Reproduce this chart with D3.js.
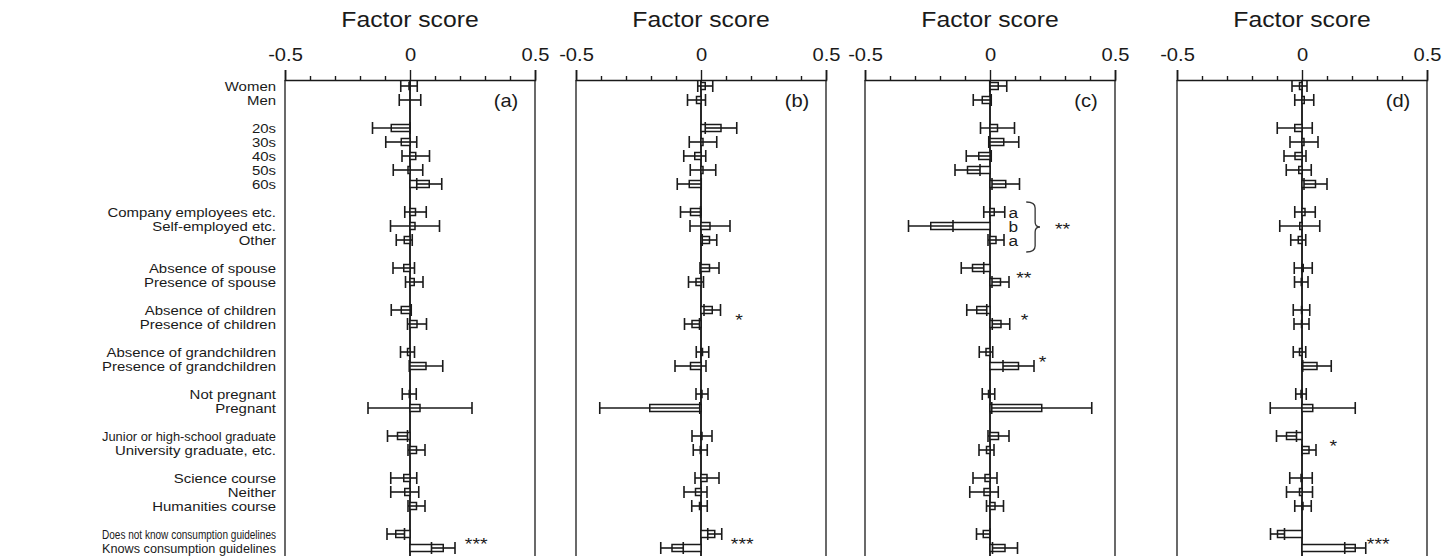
<!DOCTYPE html>
<html><head><meta charset="utf-8">
<script src="https://cdn.jsdelivr.net/npm/d3@7"></script>
<style>
body{margin:0;background:#fff}
text{font-family:"Liberation Sans",Arial,sans-serif;fill:#1a1a1a}
</style>
</head><body>
<svg id="c" width="1456" height="556"></svg>
<script>
// ---------- data ----------
const categories = [
  "Women","Men",
  "20s","30s","40s","50s","60s",
  "Company employees etc.","Self-employed etc.","Other",
  "Absence of spouse","Presence of spouse",
  "Absence of children","Presence of children",
  "Absence of grandchildren","Presence of grandchildren",
  "Not pregnant","Pregnant",
  "Junior or high-school graduate","University graduate, etc.",
  "Science course","Neither","Humanities course",
  "Does not know consumption guidelines","Knows consumption guidelines"
];
const groupSizes = [2,5,3,2,2,2,2,2,3,2];
const panelNames = ["(a)","(b)","(c)","(d)"];
const axisTitle = "Factor score";
const tickMajor = [-0.5, 0, 0.5];
const tickLabels = ["-0.5","0","0.5"];
const tickMinor = [-0.4,-0.3,-0.2,-0.1,0.1,0.2,0.3,0.4];

const meanA = [-0.004,0.000,-0.075,-0.035,0.023,-0.008,0.077,0.022,0.020,-0.023,-0.025,0.017,-0.035,0.028,-0.010,0.064,-0.003,0.040,-0.050,0.026,-0.025,-0.021,0.026,-0.057,0.133];
const errA  = [0.033,0.043,0.075,0.062,0.055,0.059,0.050,0.043,0.098,0.032,0.043,0.035,0.040,0.038,0.028,0.067,0.028,0.208,0.040,0.034,0.052,0.056,0.034,0.035,0.047];

const meanB = [0.017,-0.018,0.080,0.008,-0.025,0.008,-0.047,-0.042,0.036,0.034,0.034,-0.020,0.045,-0.036,0.006,-0.042,0.004,-0.205,0.004,-0.003,0.024,-0.022,-0.006,0.055,-0.116];
const errB  = [0.030,0.036,0.063,0.055,0.044,0.051,0.048,0.040,0.080,0.029,0.038,0.030,0.033,0.030,0.025,0.062,0.024,0.200,0.040,0.028,0.048,0.046,0.031,0.028,0.045];

const meanC = [0.033,-0.031,0.030,0.055,-0.045,-0.090,0.063,0.017,-0.237,0.024,-0.070,0.042,-0.053,0.044,-0.016,0.114,-0.006,0.207,0.034,-0.014,-0.020,-0.024,0.020,-0.027,0.060];
const errC  = [0.034,0.036,0.068,0.060,0.050,0.050,0.055,0.042,0.089,0.032,0.045,0.034,0.040,0.035,0.027,0.062,0.025,0.200,0.042,0.030,0.048,0.057,0.034,0.027,0.050];

const meanD = [-0.010,0.009,-0.029,0.008,-0.028,-0.013,0.054,0.012,-0.009,-0.015,0.005,-0.003,-0.002,-0.002,-0.010,0.060,-0.004,0.043,-0.062,0.028,-0.004,-0.010,0.004,-0.098,0.213];
const errD  = [0.030,0.038,0.070,0.056,0.044,0.050,0.046,0.041,0.080,0.030,0.036,0.027,0.033,0.030,0.025,0.057,0.021,0.170,0.040,0.028,0.045,0.052,0.033,0.028,0.042];

// significance marks: between rows `from` and `to`, at factor-score x
const sigA = [{from:"Does not know consumption guidelines", to:"Knows consumption guidelines", x:0.265, text:"***"}];
const sigB = [{from:"Absence of children", to:"Presence of children", x:0.152, text:"*"},
              {from:"Does not know consumption guidelines", to:"Knows consumption guidelines", x:0.165, text:"***"}];
const sigC = [{from:"Self-employed etc.", to:"Self-employed etc.", x:0.29, text:"**"},
              {from:"Absence of spouse", to:"Presence of spouse", x:0.135, text:"**"},
              {from:"Absence of children", to:"Presence of children", x:0.138, text:"*"},
              {from:"Absence of grandchildren", to:"Presence of grandchildren", x:0.21, text:"*"}];
const sigD = [{from:"Junior or high-school graduate", to:"University graduate, etc.", x:0.125, text:"*"},
              {from:"Does not know consumption guidelines", to:"Knows consumption guidelines", x:0.305, text:"***"}];
const lettersC = [{row:"Company employees etc.", text:"a"},{row:"Self-employed etc.", text:"b"},{row:"Other", text:"a"}];
const letterX = 0.093;
const braceC = {from:"Company employees etc.", to:"Other", x0:0.145, x1:0.2};

// ---------- layout ----------
const svg = d3.select("#c");
const SX = 1.15; // horizontal stretch of the original typography
const panelLeft = [285, 576, 865, 1177];
const panelW = 250;
const topY = 80;
const INK = "#1a1a1a";

// slot positions (groups separated by a blank slot)
const slotOf = {};
let s = 0, k = 0;
groupSizes.forEach(g => { for (let i = 0; i < g; i++) slotOf[categories[k++]] = s++; s++; });
const nSlots = s - 1;
const y = d3.scaleLinear().domain([0, nSlots - 1]).range([86, 548]);

function sText(g, x, yy, str, size, anchor) {
  return g.append("text")
    .attr("transform", `translate(${x},${yy}) scale(${SX},1)`)
    .attr("text-anchor", anchor || "middle")
    .style("font-size", size + "px")
    .text(str);
}

// row labels (long ones are squeezed to the label column width, as in the original)
const lab = svg.append("g");
const maxLabelW = 174;
categories.forEach(c => {
  const t = sText(lab, 276, y(slotOf[c]) + 4.5, c, 13, "end");
  const w = t.node().getComputedTextLength();
  if (w * SX > maxLabelW) t.attr("textLength", maxLabelW / SX).attr("lengthAdjust", "spacingAndGlyphs");
});

const panels = [
  {mean: meanA, err: errA, sig: sigA},
  {mean: meanB, err: errB, sig: sigB},
  {mean: meanC, err: errC, sig: sigC, letters: lettersC, brace: braceC},
  {mean: meanD, err: errD, sig: sigD}
];

panels.forEach((p, pi) => {
  const L = panelLeft[pi];
  const x = d3.scaleLinear().domain([-0.5, 0.5]).range([L, L + panelW]);
  const g = svg.append("g");

  // frame
  g.append("line").attr("x1", L).attr("x2", L).attr("y1", topY).attr("y2", 560).attr("stroke", "#444").attr("stroke-width", 1.6);
  g.append("line").attr("x1", L + panelW).attr("x2", L + panelW).attr("y1", topY).attr("y2", 560).attr("stroke", "#444").attr("stroke-width", 1.6);

  // axes (major + minor ticks)
  const axMaj = d3.axisTop(x).tickValues(tickMajor).tickSize(10).tickPadding(9.5)
    .tickFormat((d, i) => tickLabels[i]);
  const gA = g.append("g").attr("transform", `translate(0,${topY})`).call(axMaj);
  gA.select(".domain").attr("stroke", INK).attr("stroke-width", 1.6);
  gA.selectAll(".tick line").attr("stroke", INK).attr("stroke-width", 1.4);
  gA.selectAll(".tick text").style("font-size", "17.5px").attr("fill", INK)
    .style("font-family", '"Liberation Sans",Arial,sans-serif').attr("transform", `scale(${SX},1)`);
  const axMin = d3.axisTop(x).tickValues(tickMinor).tickSize(4).tickFormat("");
  const gB = g.append("g").attr("transform", `translate(0,${topY})`).call(axMin);
  gB.select(".domain").remove();
  gB.selectAll(".tick line").attr("stroke", INK).attr("stroke-width", 1.4);

  sText(g, x(0), 27.3, axisTitle, 21.5);
  sText(g, L + panelW - 29, 107, panelNames[pi], 17.5);

  // zero line
  g.append("line").attr("x1", x(0)).attr("x2", x(0)).attr("y1", topY).attr("y2", 560).attr("stroke", "#111").attr("stroke-width", 1.8);

  const rows = categories.map((c, i) => ({c, m: p.mean[i], e: p.err[i], yy: y(slotOf[c])}));
  // bars
  g.selectAll("rect.bar").data(rows).join("rect").attr("class", "bar")
    .attr("x", d => Math.min(x(0), x(d.m))).attr("width", d => Math.abs(x(d.m) - x(0)))
    .attr("y", d => d.yy - 3.5).attr("height", 7)
    .attr("fill", "#fff").attr("stroke", INK).attr("stroke-width", 1.5);
  // error bars
  const eb = g.selectAll("g.eb").data(rows).join("g").attr("class", "eb")
    .attr("stroke", INK).attr("stroke-width", 1.6);
  eb.append("line").attr("x1", d => x(d.m - d.e)).attr("x2", d => x(d.m + d.e)).attr("y1", d => d.yy).attr("y2", d => d.yy);
  eb.append("line").attr("x1", d => x(d.m - d.e)).attr("x2", d => x(d.m - d.e)).attr("y1", d => d.yy - 6).attr("y2", d => d.yy + 6);
  eb.append("line").attr("x1", d => x(d.m + d.e)).attr("x2", d => x(d.m + d.e)).attr("y1", d => d.yy - 6).attr("y2", d => d.yy + 6);

  // significance
  p.sig.forEach(sg => {
    const yy = (y(slotOf[sg.from]) + y(slotOf[sg.to])) / 2;
    sText(g, x(sg.x), yy + 9, sg.text, 17);
  });
  if (p.letters) {
    p.letters.forEach(l => sText(g, x(letterX), y(slotOf[l.row]) + 5.5, l.text, 15));
    const b = p.brace;
    const y0 = y(slotOf[b.from]) - 10, y1 = y(slotOf[b.to]) + 12, ym = (y0 + y1) / 2;
    const a = x(b.x0), c = x(b.x1), mx = (a + c) / 2 + 2;
    g.append("path").attr("fill", "none").attr("stroke", "#333").attr("stroke-width", 1.3)
      .attr("d", `M${a},${y0} Q${mx},${y0} ${mx},${y0 + 6} L${mx},${ym - 5} Q${mx},${ym} ${c},${ym} Q${mx},${ym} ${mx},${ym + 5} L${mx},${y1 - 6} Q${mx},${y1} ${a},${y1}`);
  }
});
</script>
</body></html>
